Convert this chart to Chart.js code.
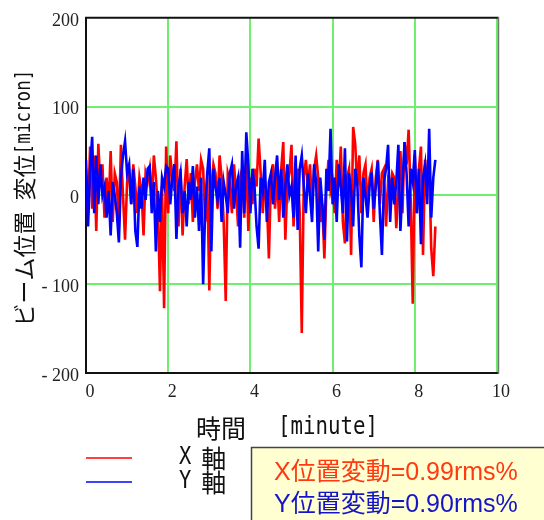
<!DOCTYPE html>
<html>
<head>
<meta charset="utf-8">
<script src="https://cdn.jsdelivr.net/npm/chart.js@4.4.1/dist/chart.umd.min.js"></script>
<style>
  html, body { margin: 0; padding: 0; background: #fff; }
  canvas { display: block; }
</style>
</head>
<body>
<canvas id="chart" width="544" height="520"></canvas>
<script>
// sample spacing in minutes
const sampleStep = 0.05;

// X軸 beam position [micron], one value per sample
const xAxisPos = [
  30, -20, 55, -15, 45, -40, 58, 10, 35, -25, 20, -15, 50, -30, 25, 15, -35, 57, 0, -50,
  15, 25, -10, 35, 10, -20, 20, 5, -45, 25, 15, 30, -10, 45, 20, -15, -108, 10, -127, 55,
  -20, 45, 20, 5, 61, -35, 30, -45, 10, 41, -10, 25, -30, 15, 35, 5, 40, 30, -30, 20,
  -107, 10, 35, 25, -15, 45, 20, -30, -119, 25, 15, -20, 35, 5, -35, 20, 30, -25, 45, -40,
  20, -10, 30, 10, 64, 25, -20, 15, -5, -71, 20, 35, -15, 25, -30, 30, 60, -50, 15, 25,
  57, -35, 10, 30, -20, -155, 20, 40, 10, 35, -15, 30, 45, 20, -30, -10, -71, 10, 40, 5,
  15, -20, 40, 10, 55, -30, -54, 20, 30, -67, 77, 58, 10, 45, -20, 25, 35, -15, 20, 30,
  -30, 20, 40, -10, 25, 30, -35, 15, 5, 25, 20, -37, 10, 50, -20, 60, 35, 74, -5, -122,
  45, -20, 30, 55, -67, 40, 10, 35, -60, -91, -35
];

// Y軸 beam position [micron]
const yAxisPos = [
  40, -35, 30, 66, -20, 45, -10, 35, 0, 10, -25, 5, -45, 15, 0, -20, -53, 20, 45, 61,
  25, 35, -10, 30, -40, -58, 10, -15, 20, -5, 30, 33, -20, 15, -63, 5, -30, 20, 10, 33,
  30, -10, 20, 35, -49, 10, 25, -20, 5, -35, 15, -5, 33, -25, 10, -40, 20, -100, -15, 25,
  53, -63, 30, 10, -5, 20, -30, 15, 0, -20, 25, 35, -15, 10, 20, -59, 50, -20, 71, 35,
  -20, 30, 10, -35, -60, 20, 5, 40, -30, 15, 25, -10, 20, 45, -5, 30, -25, 10, 35, 0,
  10, -25, 45, -39, 30, 45, 10, -20, 25, 0, -30, 35, 15, -63, 20, -10, -50, 30, 5, 75,
  -10, 20, -30, 35, 10, -20, 53, -52, 25, 5, -35, 30, 15, -45, -81, 20, 0, -25, 10, 26,
  -15, 10, 39, -20, -67, 15, 30, 57, -30, 20, -10, 15, 57, -40, 10, 60, 25, -35, 30, 15,
  51, -20, 30, -55, 20, 35, -10, 75, -25, 20, 40
];

const xTicks = [0, 2, 4, 6, 8, 10];
const yTicks = [-200, -100, 0, 100, 200];

const seriesNames = ['X', 'Y'];
const rmsText = ['X位置変動=0.99rms%', 'Y位置変動=0.90rms%'];

const gridGreen = 'rgb(110, 240, 110)';
const cjk = '"Noto Sans CJK JP"';
const mono = '"DejaVu Sans Mono"';

const toPoints = vals => vals.map((v, i) => ({ x: +(i * sampleStep).toFixed(2), y: v }));

// draw a run of text pieces, each with its own font and horizontal squeeze
function drawPieces(ctx, pieces, x, y) {
  let cx = x;
  pieces.forEach(p => {
    ctx.font = p.font;
    const w = ctx.measureText(p.text).width;
    const sx = p.sx || 1;
    if (p.text.trim()) {
      ctx.save();
      ctx.translate(cx, y);
      ctx.scale(sx, 1);
      ctx.fillText(p.text, 0, 0);
      ctx.restore();
    }
    cx += (p.gap !== undefined ? p.gap : w * sx);
  });
  return cx - x;
}

function piecesWidth(ctx, pieces) {
  let total = 0;
  pieces.forEach(p => {
    ctx.font = p.font;
    total += (p.gap !== undefined ? p.gap : ctx.measureText(p.text).width * (p.sx || 1));
  });
  return total;
}

const decor = {
  id: 'decor',
  afterDraw(chart) {
    const ctx = chart.ctx;
    const a = chart.chartArea;
    ctx.save();

    // top frame and right shade
    ctx.strokeStyle = '#111';
    ctx.lineWidth = 2;
    ctx.beginPath();
    ctx.moveTo(a.left - 1, a.top);
    ctx.lineTo(a.right + 1, a.top);
    ctx.stroke();
    ctx.strokeStyle = '#777';
    ctx.lineWidth = 1.5;
    ctx.beginPath();
    ctx.moveTo(a.right + 1.5, a.top - 1);
    ctx.lineTo(a.right + 1.5, a.bottom + 1);
    ctx.stroke();

    ctx.fillStyle = '#111';
    ctx.textBaseline = 'middle';
    ctx.textAlign = 'left';

    // y axis title (rotated)
    const yTitle = [
      { text: 'ビーム位置', font: '23px ' + cjk },
      { text: ' ', font: '23px ' + cjk, gap: 11 },
      { text: '変位', font: '23px ' + cjk },
      { text: '[micron]', font: '22px ' + mono, sx: 0.8 }
    ];
    ctx.save();
    ctx.translate(24, 198);
    ctx.rotate(-Math.PI / 2);
    drawPieces(ctx, yTitle, -piecesWidth(ctx, yTitle) / 2, 0);
    ctx.restore();

    // x axis title
    drawPieces(ctx, [
      { text: '時間', font: '25px ' + cjk },
      { text: ' ', font: '25px ' + cjk, gap: 32 },
      { text: '[minute]', font: '24px ' + mono, sx: 0.865 }
    ], 196, 428);

    // legend
    const legendRows = [
      { name: seriesNames[0], color: '#ff0000', y: 458 },
      { name: seriesNames[1], color: '#0000ff', y: 482 }
    ];
    legendRows.forEach(r => {
      ctx.strokeStyle = r.color;
      ctx.lineWidth = 1.5;
      ctx.beginPath();
      ctx.moveTo(86, r.y);
      ctx.lineTo(132, r.y);
      ctx.stroke();
      ctx.fillStyle = '#111';
      drawPieces(ctx, [
        { text: r.name, font: '24px ' + mono, sx: 0.85 },
        { text: ' ', font: '24px ' + mono, gap: 10 },
        { text: '軸', font: '25px ' + cjk }
      ], 179, r.y);
    });

    // rms note box
    ctx.fillStyle = '#ffffd2';
    ctx.fillRect(251, 447, 300, 80);
    ctx.strokeStyle = '#444';
    ctx.lineWidth = 1.5;
    ctx.strokeRect(251.5, 447.5, 300, 80);
    ctx.font = '25px "Liberation Sans", ' + cjk;
    ctx.fillStyle = '#ff3a10';
    ctx.fillText(rmsText[0], 274, 473);
    ctx.fillStyle = '#1515c8';
    ctx.fillText(rmsText[1], 274, 505);

    ctx.restore();
  }
};

new Chart(document.getElementById('chart'), {
  type: 'line',
  data: {
    datasets: [
      {
        label: 'X軸',
        data: toPoints(xAxisPos),
        borderColor: '#ff0000',
        borderWidth: 2.6,
        pointRadius: 0,
        tension: 0,
        order: 2
      },
      {
        label: 'Y軸',
        data: toPoints(yAxisPos),
        borderColor: '#0000ff',
        borderWidth: 2.6,
        pointRadius: 0,
        tension: 0,
        order: 1
      }
    ]
  },
  options: {
    responsive: false,
    animation: false,
    events: [],
    layout: { padding: { left: 0, top: 14, right: 47, bottom: 0 } },
    plugins: {
      legend: { display: false },
      title: { display: false },
      tooltip: { enabled: false }
    },
    scales: {
      x: {
        type: 'linear',
        min: 0,
        max: 10,
        afterBuildTicks: s => { s.ticks = xTicks.map(v => ({ value: v })); },
        afterFit: s => { s.height = 147; },
        grid: {
          color: c => (c.tick && c.tick.value === 0) ? 'rgba(0,0,0,0)' : gridGreen,
          lineWidth: 2,
          drawTicks: false
        },
        border: { color: '#111', width: 2 },
        ticks: {
          font: { family: '"Liberation Serif"', size: 18 },
          color: '#222',
          padding: 8,
          labelOffset: 4,
          maxRotation: 0
        }
      },
      y: {
        min: -200,
        max: 200,
        afterBuildTicks: s => { s.ticks = yTicks.map(v => ({ value: v })); },
        afterFit: s => { s.width = 86; },
        grid: {
          color: c => (c.tick && Math.abs(c.tick.value) === 200) ? 'rgba(0,0,0,0)' : gridGreen,
          lineWidth: 2,
          drawTicks: false
        },
        border: { color: '#111', width: 2 },
        ticks: {
          font: { family: '"Liberation Serif"', size: 18 },
          color: '#222',
          padding: 7,
          labelOffset: 3,
          callback: v => v < 0 ? '- ' + (-v) : String(v)
        }
      }
    }
  },
  plugins: [decor]
});
</script>
</body>
</html>
